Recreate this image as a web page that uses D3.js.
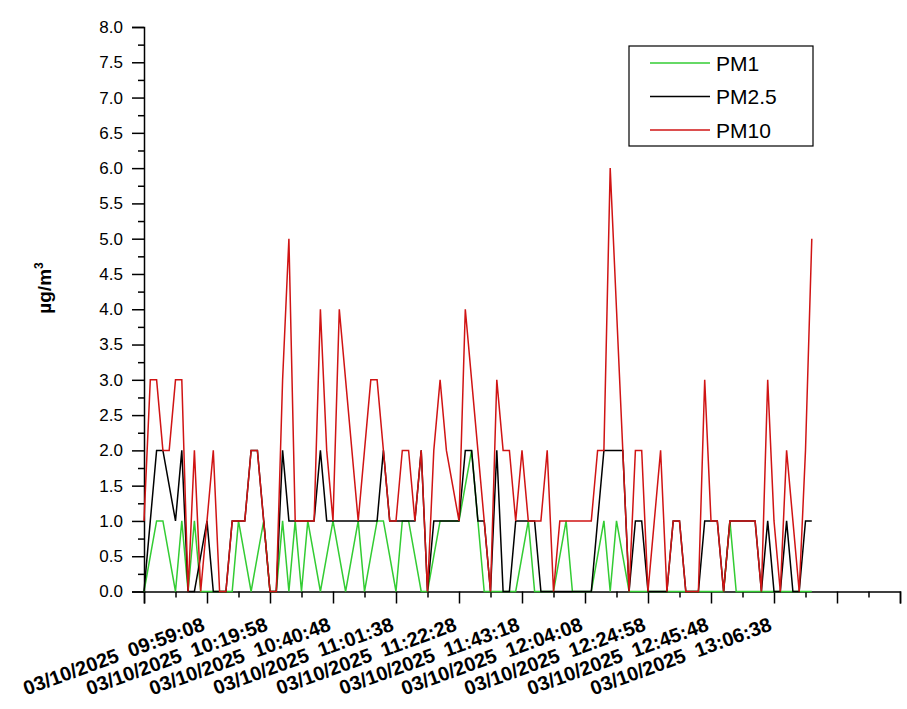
<!DOCTYPE html>
<html>
<head>
<meta charset="utf-8">
<script src="https://cdn.jsdelivr.net/npm/d3@7/dist/d3.min.js"></script>
<style>
body { margin: 0; background: #fff; }
text { font-family: "Liberation Sans", Arial, sans-serif; fill: #000; }
</style>
</head>
<body>
<script>
/*global d3*/

var width = 907, height = 709;

// time labels shown under major ticks 1..10 (10 rows per major tick)
var timeLabels = ["03/10/2025  09:59:08", "03/10/2025  10:19:58", "03/10/2025  10:40:48",
                  "03/10/2025  11:01:38", "03/10/2025  11:22:28", "03/10/2025  11:43:18",
                  "03/10/2025  12:04:08", "03/10/2025  12:24:58", "03/10/2025  12:45:48",
                  "03/10/2025  13:06:38"];

var seriesNames = ["PM1", "PM2.5", "PM10"];
var seriesColors = ["#33cc33", "#000000", "#d01414"];

var pm1 = [0,0.5,1,1,0.5,0,1,0,1,0,
           0,0,0,0,0,1,0.5,0,0.5,1,
           0,0,1,0,1,0,1,0.5,0,0.5,
           1,0.5,0,0.5,1,0,0.5,1,1,0.5,
           0,1,1,0.5,0,0,0.5,1,1,1,
           1,1.5,2,1,0,0,0,0,0,0,
           0.5,1,0,0,0,0,0.5,1,0,0,
           0,0,0.5,1,0,1,0.5,0,0,0,
           0,0,0,0,0,0,0,0,0,0,
           0,0,0,1,0,0,0,0,0,0,
           0,0,0,0,0,0,0];

var pm25 = [0,1,2,2,1.5,1,2,0,0,0.5,
            1,0,0,0,1,1,1,2,2,1,
            0,0,2,1,1,1,1,1,2,1,
            1,1,1,1,1,1,1,1,2,1,
            1,1,1,1,2,0,1,1,1,1,
            1,2,2,1,1,0,2,0,0,1,
            1,1,1,0,0,0,0,0,0,0,
            0,0,1,2,2,2,2,0,1,1,
            0,0,0,0,1,1,0,0,0,1,
            1,1,0,1,1,1,1,1,0,1,
            0,0,1,0,0,1,1];

var pm10 = [1,3,3,2,2,3,3,0,2,0,
            1,2,0,0,1,1,1,2,2,1,
            0,0,3,5,1,1,1,1,4,2,
            1,4,3,2,1,2,3,3,2,1,
            1,2,2,1,2,0,2,3,2,1.5,
            1,4,3,2,1,0,3,2,2,1,
            2,1,1,1,2,0,1,1,1,1,
            1,1,2,2,6,4,2,0,2,2,
            0,1,2,0,1,1,0,0,0,3,
            1,1,0,1,1,1,1,1,0,3,
            1,0,2,1,0,2,5];

var yMajor = d3.range(0, 8.001, 0.5);
var yMinor = d3.range(0.25, 8, 0.5);
var xMajor = d3.range(0, 121, 10);
var xMinor = d3.range(5, 120, 10);

var svg = d3.select("body")
            .append("svg")
            .attr("width", width)
            .attr("height", height);

var x = d3.scaleLinear().domain([0, 120]).range([144, 900]);
var y = d3.scaleLinear().domain([0, 8]).range([591.5, 27]);

// y axis
var yAxis = svg.append("g")
    .attr("transform", "translate(" + x(0) + ",0)")
    .call(d3.axisLeft(y).tickValues(yMajor).tickFormat(d3.format(".1f"))
        .tickSize(12).tickPadding(9));
yAxis.selectAll("text").style("font-size", "17px");

svg.append("g")
    .attr("transform", "translate(" + x(0) + ",0)")
    .call(d3.axisLeft(y).tickValues(yMinor).tickFormat("").tickSize(6))
    .select(".domain").remove();

// x axis
svg.append("g")
    .attr("transform", "translate(0," + y(0) + ")")
    .call(d3.axisBottom(x).tickValues(xMajor).tickFormat("").tickSize(12));

svg.append("g")
    .attr("transform", "translate(0," + y(0) + ")")
    .call(d3.axisBottom(x).tickValues(xMinor).tickFormat("").tickSize(6))
    .select(".domain").remove();

svg.selectAll(".domain, .tick line")
    .attr("stroke", "#000")
    .attr("stroke-width", 1.5);

svg.selectAll(".xlab")
    .data(timeLabels)
    .enter()
    .append("text")
    .attr("class", "xlab")
    .attr("transform", function(d, i) {
        return "translate(" + (x((i + 1) * 10) - 1) + ",630) rotate(-20)";
    })
    .attr("text-anchor", "end")
    .style("font-size", "20px")
    .style("font-weight", "bold")
    .style("white-space", "pre")
    .text(function(d) { return d; });

// y title
var yTitle = svg.append("text")
    .attr("transform", "translate(51,288) rotate(-90)")
    .attr("text-anchor", "middle")
    .style("font-size", "19px")
    .style("font-weight", "bold")
    .text("µg/m");
yTitle.append("tspan")
    .attr("dy", "-8")
    .style("font-size", "12px")
    .text("3");

// series
var line = d3.line()
    .x(function(d, i) { return x(i); })
    .y(function(d) { return y(d); });

[pm1, pm25, pm10].forEach(function(s, k) {
    svg.append("path")
        .datum(s)
        .attr("fill", "none")
        .attr("stroke", seriesColors[k])
        .attr("stroke-width", 1.5)
        .attr("d", line);
});

// legend
var legend = svg.append("g");
legend.append("rect")
    .attr("x", 629).attr("y", 46)
    .attr("width", 184).attr("height", 100)
    .attr("fill", "#fff")
    .attr("stroke", "#000")
    .attr("stroke-width", 1.2);

seriesNames.forEach(function(name, k) {
    var ly = 63 + k * 33.5;
    legend.append("line")
        .attr("x1", 650).attr("x2", 710)
        .attr("y1", ly).attr("y2", ly)
        .attr("stroke", seriesColors[k])
        .attr("stroke-width", 1.3);
    legend.append("text")
        .attr("x", 716).attr("y", ly + 7.5)
        .style("font-size", "21px")
        .text(name);
});
</script>
</body>
</html>
